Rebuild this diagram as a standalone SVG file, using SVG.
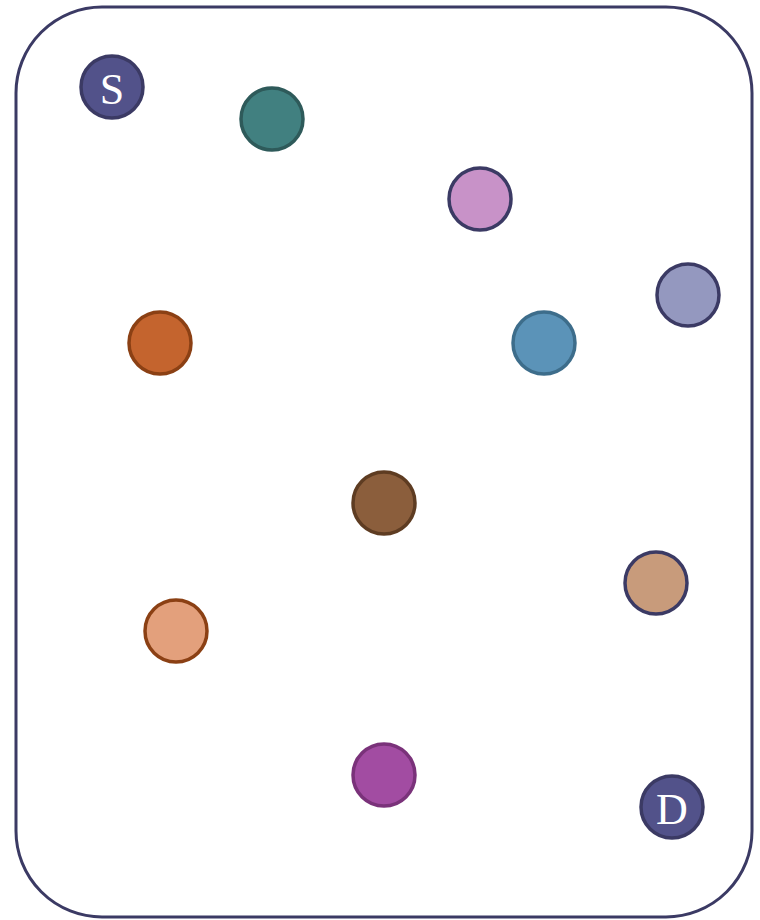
<svg xmlns="http://www.w3.org/2000/svg" width="760" height="920" viewBox="0 0 760 920">
<style>
.frame{fill:#ffffff;stroke:#3b3a64;stroke-width:3}
.n{stroke-width:3.5}
.lbl{font-family:"Liberation Serif","DejaVu Serif",serif;font-size:44px;fill:#ffffff;text-anchor:middle;dominant-baseline:central}
</style>
<rect class="frame" x="16" y="7" width="736" height="910" rx="86" ry="86"/>
<g id="connectors"></g>
<g id="S"><circle class="n" cx="112" cy="87" r="31" fill="#52528a" stroke="#3b3a64"/><text class="lbl" x="112" y="89">S</text></g>
<g id="n1"><circle class="n" cx="272" cy="119" r="31" fill="#418080" stroke="#2e5a5a"/></g>
<g id="n2"><circle class="n" cx="480" cy="199" r="31" fill="#c892c8" stroke="#3b3a64"/></g>
<g id="n3"><circle class="n" cx="688" cy="295" r="31" fill="#9498bf" stroke="#3b3a64"/></g>
<g id="n4"><circle class="n" cx="160" cy="343" r="31" fill="#c4642e" stroke="#8b4014"/></g>
<g id="n5"><circle class="n" cx="544" cy="343" r="31" fill="#5b93b8" stroke="#3d6d8b"/></g>
<g id="n6"><circle class="n" cx="384" cy="503" r="31" fill="#8b5e3c" stroke="#5e3c22"/></g>
<g id="n7"><circle class="n" cx="656" cy="583" r="31" fill="#c89b7b" stroke="#3b3a64"/></g>
<g id="n8"><circle class="n" cx="176" cy="631" r="31" fill="#e3a07c" stroke="#8b4014"/></g>
<g id="n9"><circle class="n" cx="384" cy="775" r="31" fill="#a24ca2" stroke="#7a327a"/></g>
<g id="D"><circle class="n" cx="672" cy="807" r="31" fill="#52528a" stroke="#3b3a64"/><text class="lbl" x="672" y="809">D</text></g>
</svg>
